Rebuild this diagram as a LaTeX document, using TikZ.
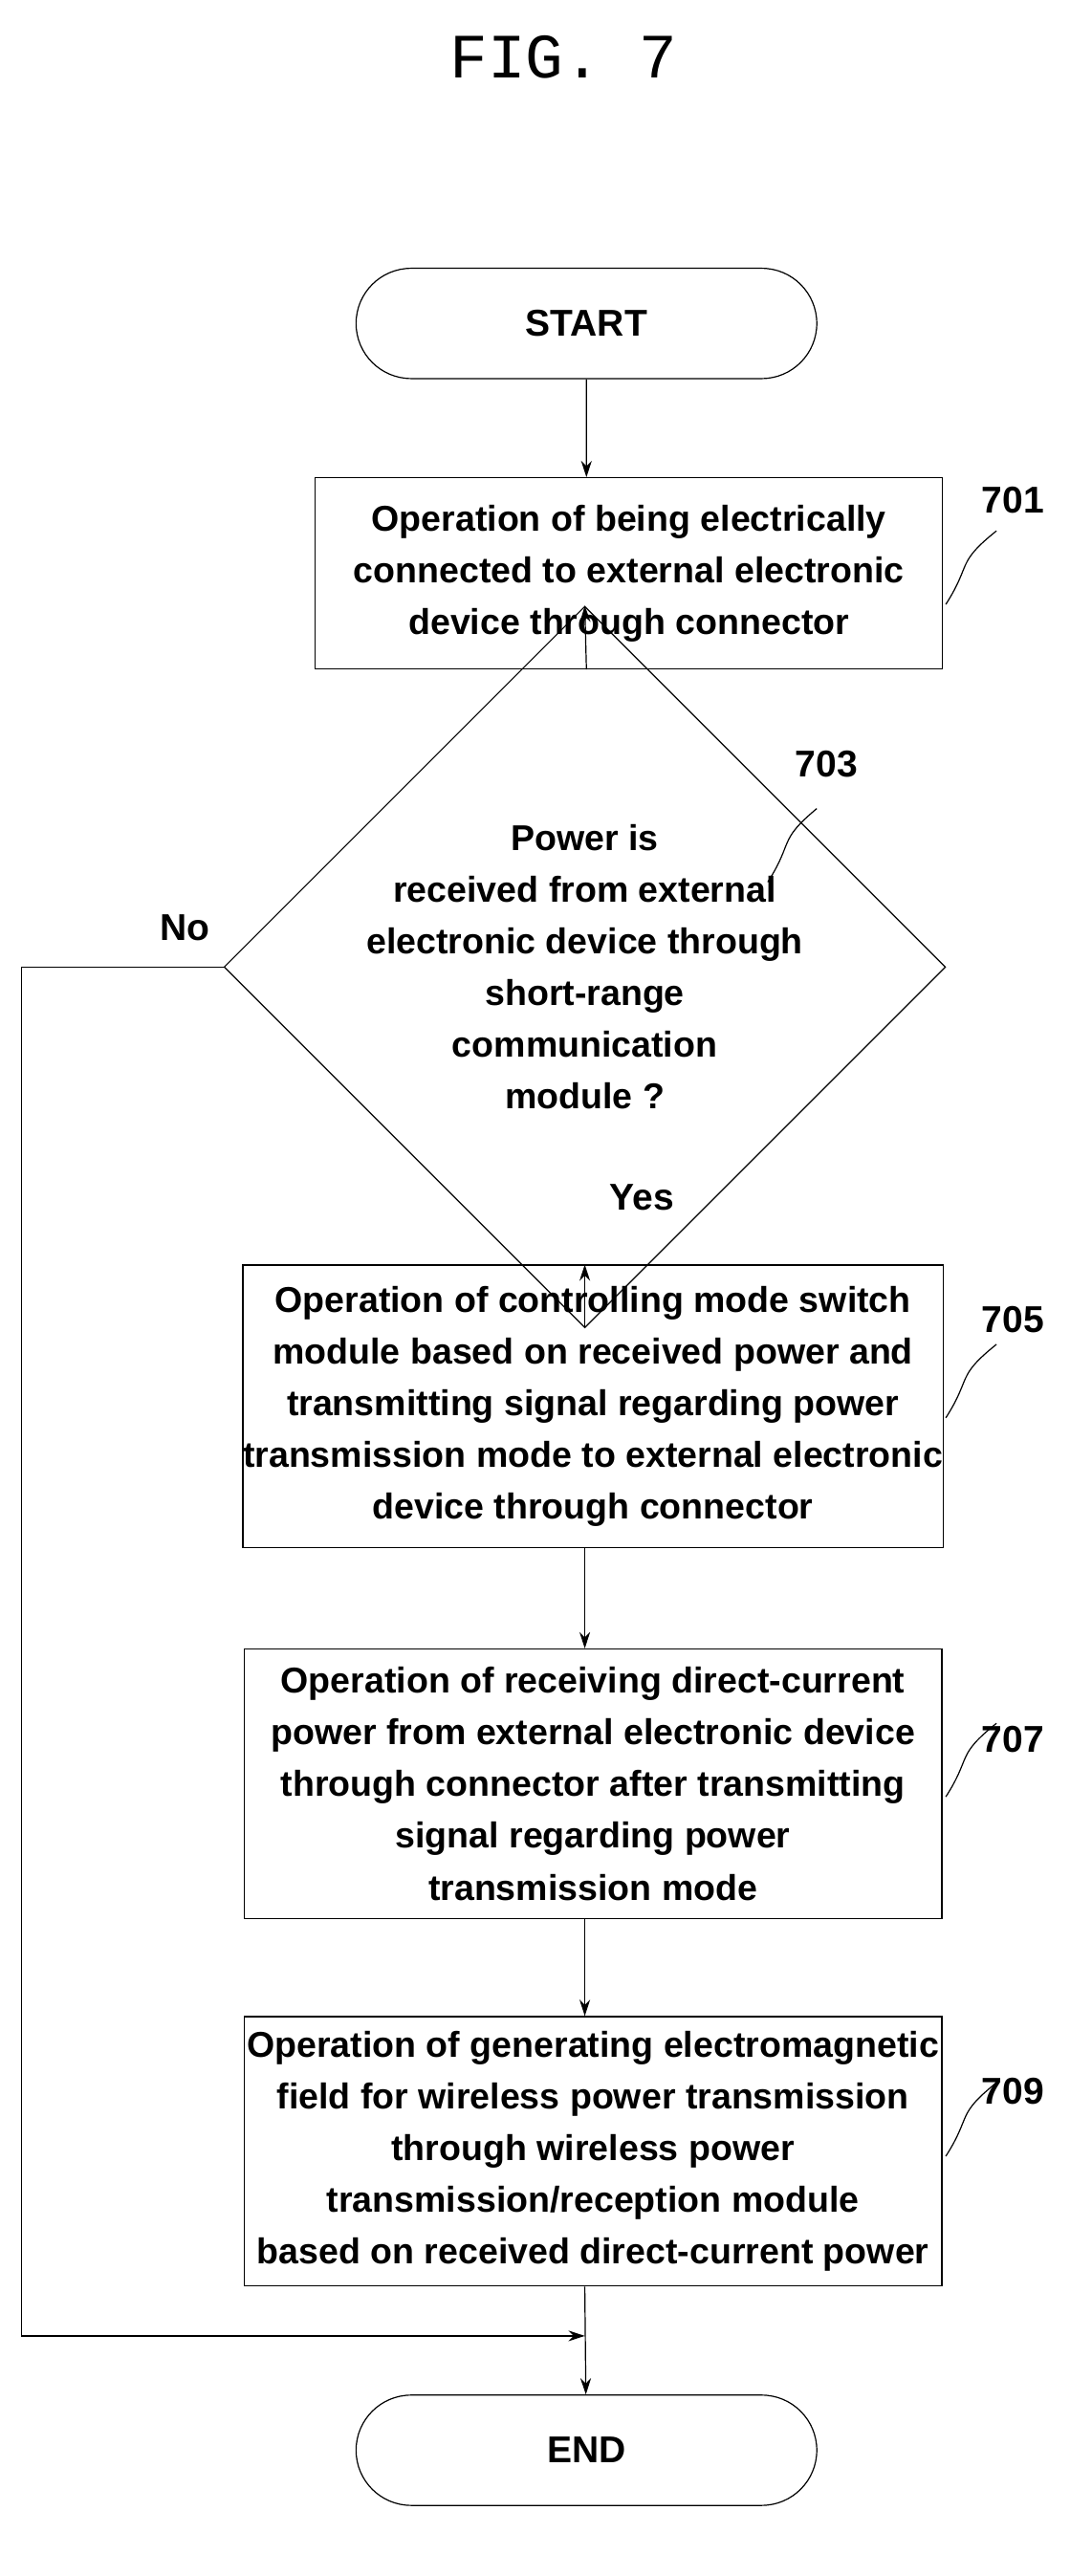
\documentclass[tikz,border=0pt]{standalone}
\usepackage{fontspec}
\setmainfont{Liberation Sans}
\setmonofont{Liberation Mono}
\usetikzlibrary{shapes.geometric,shapes.misc,arrows.meta}
\tikzset{term/.style = {rounded rectangle, thick, draw, minimum width=11.28cm, minimum height=2.7cm, inner sep=0pt, font=\fontsize{26}{32}\selectfont\bfseries},
           box/.style = {rectangle, thick, draw, inner sep=0pt, align=center, font=\fontsize{25}{36}\selectfont\bfseries},
           dec/.style = {diamond, thick, draw, inner sep=0pt, minimum width=17.6cm, minimum height=10cm, align=center, font=\fontsize{25}{36}\selectfont\bfseries},
           num/.style = {font=\fontsize{26}{30}\selectfont\bfseries},
           lb/.style  = {font=\fontsize{26}{30}\selectfont\bfseries}}
\begin{document}
\begin{tikzpicture}[x=0.04cm, y=-0.04cm, >={Stealth[length=4mm,width=2.6mm]}, thick]
    \useasboundingbox (0,0) rectangle (655,1577);
    \node[font=\fontsize{44}{50}\selectfont\ttfamily] (fig) at (345,35) {FIG. 7};
    \node[term] (start) at (359,198) {START};
    \node[box, minimum width=15.36cm, minimum height=4.68cm] (s701) at (385,351)
        {Operation of being electrically\\connected to external electronic\\device through connector};
    \node[dec] (s703) at (358,592) {Power is\\received from external\\electronic device through\\short-range\\communication\\module ?};
    \node[box, minimum width=17.08cm, minimum height=6.92cm] (s705) at (363,861)
        {Operation of controlling mode switch\\module based on received power and\\transmitting signal regarding power\\transmission mode to external electronic\\device through connector};
    \node[box, minimum width=17.08cm, minimum height=6.6cm] (s707) at (363,1092)
        {Operation of receiving direct-current\\power from external electronic device\\through connector after transmitting\\signal regarding power\\transmission mode};
    \node[box, minimum width=17.08cm, minimum height=6.6cm] (s709) at (363,1317)
        {Operation of generating electromagnetic\\field for wireless power transmission\\through wireless power\\transmission/reception module\\based on received direct-current power};
    \node[term] (end) at (359,1500) {END};
    % step numbers
    \node[num] (n701) at (620,306) {701};
    \node[num] (n703) at (506,468) {703};
    \node[num] (n705) at (620,808) {705};
    \node[num] (n707) at (620,1065) {707};
    \node[num] (n709) at (620,1280) {709};
    \draw (579,370) .. controls (595,345) and (585,345) .. (610,325);
    \draw (470,540) .. controls (486,515) and (476,515) .. (500,495);
    \draw (579,868) .. controls (595,843) and (585,843) .. (610,823);
    \draw (579,1100) .. controls (595,1075) and (585,1075) .. (610,1055);
    \draw (579,1320) .. controls (595,1295) and (585,1295) .. (610,1275);
    % flow
    \coordinate (merge) at (358,1430);
    \draw[->] (start) -- (s701.north -| start);
    \draw[->] (s701.south -| start) -- (s703.north);
    \draw[->] (s703.south) -- (s705.north -| s703.south);
    \draw[->] (s705.south -| s703.south) -- (s707.north -| s703.south);
    \draw[->] (s707.south -| s703.south) -- (s709.north -| s703.south);
    \draw[->] (s709.south -| s703.south) -- (end);
    \draw[->] (s703.west) -- (13,592) -- (13,1430) -- (merge);
    \node[lb] (no) at (113,568) {No};
    \node[lb] (yes) at (393,733) {Yes};
\end{tikzpicture}
\end{document}
